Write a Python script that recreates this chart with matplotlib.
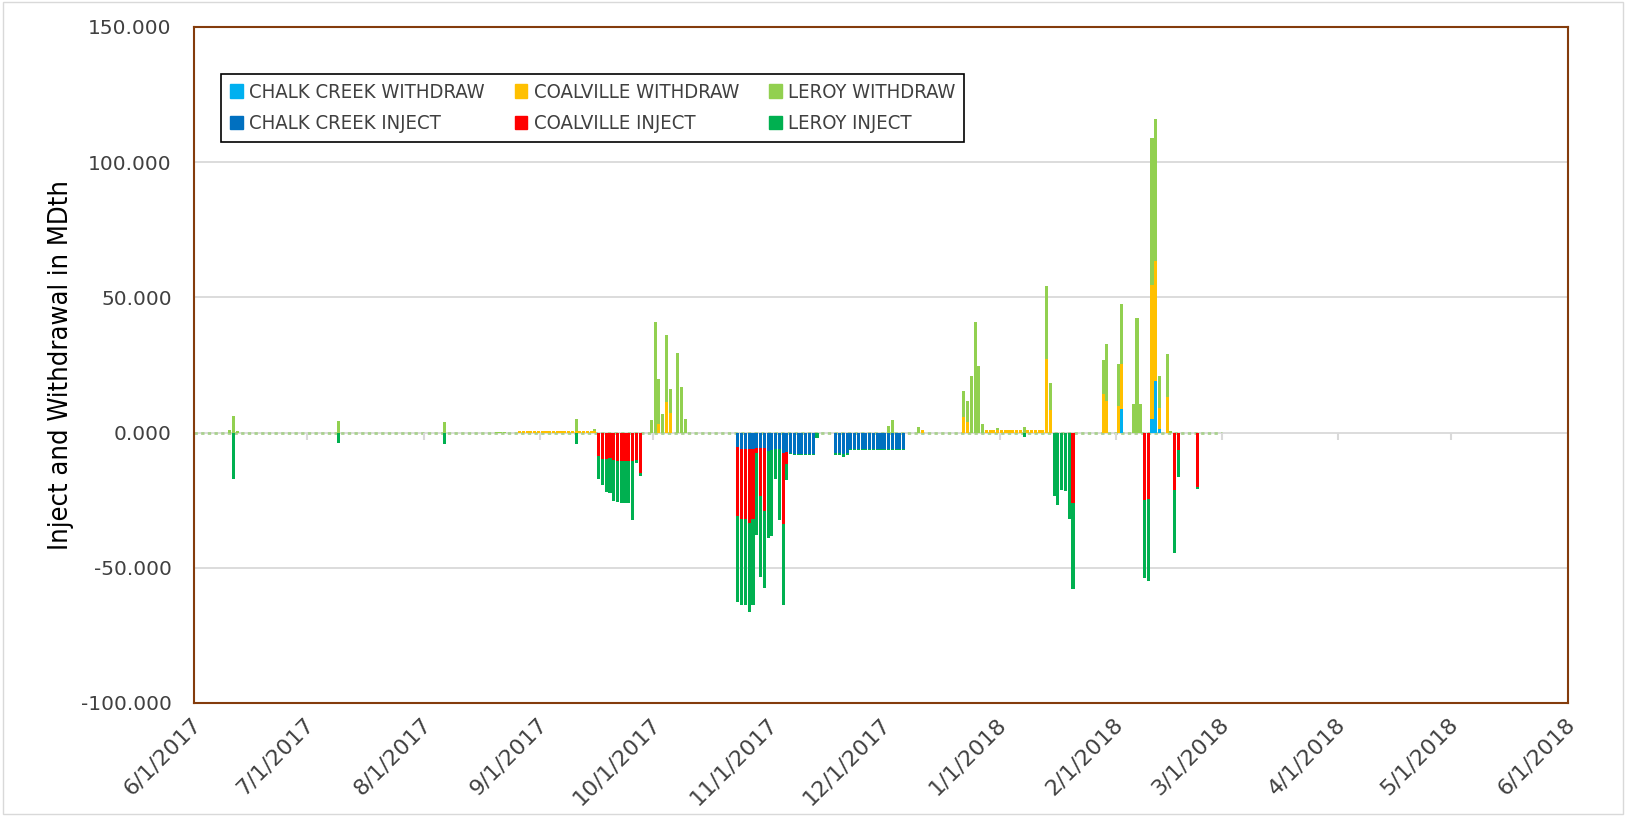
import matplotlib
matplotlib.use("Agg")
import matplotlib.pyplot as plt
import matplotlib.transforms as mtransforms
from matplotlib.patches import Patch, Rectangle
import pandas as pd

# daily values in MDth, only non-zero days listed
chalk_withdraw = {"2018-02-02": 8.9, "2018-02-10": 5.2, "2018-02-11": 19.1, "2018-02-12": 1.5}

coalville_withdraw = {
    "2017-08-26": 0.7, "2017-08-27": 0.7, "2017-08-28": 0.7, "2017-08-29": 0.7, "2017-08-30": 0.7,
    "2017-08-31": 0.7, "2017-09-01": 0.7, "2017-09-02": 0.7, "2017-09-03": 0.7, "2017-09-04": 0.7,
    "2017-09-05": 0.7, "2017-09-06": 0.7, "2017-09-07": 0.7, "2017-09-08": 0.7, "2017-09-09": 0.7,
    "2017-09-10": 0.7, "2017-09-11": 0.7, "2017-09-12": 0.7, "2017-09-13": 0.7, "2017-09-14": 0.7,
    "2017-09-15": 0.7,
    "2017-10-02": 3.1, "2017-10-04": 11.4, "2017-10-05": 7.3, "2017-12-11": 1.1,
    "2017-12-22": 5.6, "2017-12-23": 4.1,
    "2017-12-28": 0.9, "2017-12-29": 0.9, "2017-12-30": 0.9, "2017-12-31": 0.9, "2018-01-01": 0.9,
    "2018-01-02": 0.9, "2018-01-03": 0.9, "2018-01-04": 0.9, "2018-01-05": 0.9, "2018-01-06": 0.9,
    "2018-01-08": 0.9, "2018-01-09": 0.9, "2018-01-10": 0.9, "2018-01-11": 0.9, "2018-01-12": 0.9,
    "2018-01-13": 27.1, "2018-01-14": 8.5, "2018-01-28": 14.2, "2018-01-29": 11.7,
    "2018-02-01": 9.9, "2018-02-02": 16.6, "2018-02-10": 49.5, "2018-02-11": 44.4,
    "2018-02-12": 7.7, "2018-02-14": 13.2,
}

leroy_withdraw = {
    "2017-06-10": 1.0, "2017-06-11": 6.2, "2017-06-12": 0.5, "2017-07-09": 4.3, "2017-08-06": 4.1,
    "2017-08-20": 0.3, "2017-08-21": 0.3, "2017-08-22": 0.3, "2017-09-10": 4.3, "2017-09-15": 0.5,
    "2017-09-30": 4.6, "2017-10-01": 41.0, "2017-10-02": 16.9, "2017-10-03": 6.8, "2017-10-04": 24.7,
    "2017-10-05": 8.9, "2017-10-07": 29.5, "2017-10-08": 16.9, "2017-10-09": 5.2,
    "2017-12-02": 2.5, "2017-12-03": 4.8, "2017-12-10": 1.9,
    "2017-12-22": 9.7, "2017-12-23": 7.5, "2017-12-24": 20.9, "2017-12-25": 40.9, "2017-12-26": 24.6,
    "2017-12-27": 3.2, "2017-12-31": 0.7, "2018-01-07": 2.2, "2018-01-13": 27.0, "2018-01-14": 9.7,
    "2018-01-28": 12.8, "2018-01-29": 21.0, "2018-02-01": 15.4, "2018-02-02": 22.0,
    "2018-02-05": 10.4, "2018-02-06": 42.5, "2018-02-07": 10.5, "2018-02-10": 54.1,
    "2018-02-11": 52.3, "2018-02-12": 11.6, "2018-02-14": 15.7, "2018-02-15": 0.6,
}

chalk_inject = {
    "2017-10-23": -5.5, "2017-10-24": -5.9, "2017-10-25": -5.9, "2017-10-26": -6.2, "2017-10-27": -5.9,
    "2017-10-28": -5.6, "2017-10-29": -5.6, "2017-10-30": -5.6, "2017-10-31": -6.8, "2017-11-01": -6.5,
    "2017-11-02": -6.2, "2017-11-03": -5.9, "2017-11-04": -7.7, "2017-11-05": -7.3, "2017-11-06": -7.4,
    "2017-11-07": -7.9, "2017-11-08": -7.9, "2017-11-09": -7.9, "2017-11-10": -7.9, "2017-11-11": -7.9,
    "2017-11-12": -7.9,
    "2017-11-18": -7.7, "2017-11-19": -7.7, "2017-11-20": -8.0, "2017-11-21": -7.7,
    "2017-11-22": -5.9, "2017-11-23": -5.9, "2017-11-24": -5.9, "2017-11-25": -5.9, "2017-11-26": -5.9,
    "2017-11-27": -5.9, "2017-11-28": -5.9, "2017-11-29": -5.9, "2017-11-30": -5.9, "2017-12-01": -5.9,
    "2017-12-02": -5.9, "2017-12-03": -5.9, "2017-12-04": -5.9, "2017-12-05": -5.9, "2017-12-06": -5.9,
}

coalville_inject = {
    "2017-09-16": -8.6, "2017-09-17": -9.8, "2017-09-18": -9.6, "2017-09-19": -9.3, "2017-09-20": -10.2,
    "2017-09-21": -10.6, "2017-09-22": -10.6, "2017-09-23": -10.5, "2017-09-24": -10.4,
    "2017-09-25": -10.5, "2017-09-26": -10.2, "2017-09-27": -15.1,
    "2017-10-23": -25.4, "2017-10-24": -26.2, "2017-10-25": -26.2, "2017-10-26": -27.4,
    "2017-10-27": -26.2, "2017-10-28": -1.9, "2017-10-29": -17.9, "2017-10-30": -23.5,
    "2017-11-04": -26.2, "2017-11-05": -4.4, "2018-01-20": -26.0, "2018-02-08": -25.0,
    "2018-02-09": -24.5, "2018-02-16": -21.1, "2018-02-17": -6.5, "2018-02-22": -20.1,
}

leroy_inject = {
    "2017-06-11": -17.0, "2017-07-09": -4.0, "2017-08-06": -4.4, "2017-09-10": -4.3,
    "2017-09-16": -8.6, "2017-09-17": -9.6, "2017-09-18": -12.5, "2017-09-19": -13.2,
    "2017-09-20": -15.2, "2017-09-21": -15.0, "2017-09-22": -15.4, "2017-09-23": -15.7,
    "2017-09-24": -15.5, "2017-09-25": -21.9, "2017-09-26": -0.9, "2017-09-27": -0.9,
    "2017-10-23": -31.7, "2017-10-24": -31.7, "2017-10-25": -31.7, "2017-10-26": -32.9,
    "2017-10-27": -31.7, "2017-10-28": -30.2, "2017-10-29": -29.9, "2017-10-30": -28.3,
    "2017-10-31": -32.1, "2017-11-01": -31.8, "2017-11-02": -10.8, "2017-11-03": -26.5,
    "2017-11-04": -29.9, "2017-11-05": -5.9, "2017-11-06": -0.6,
    "2017-11-07": -0.3, "2017-11-08": -0.3, "2017-11-09": -0.3, "2017-11-10": -0.3, "2017-11-11": -0.3,
    "2017-11-12": -0.3, "2017-11-13": -2.0,
    "2017-11-18": -0.7, "2017-11-19": -0.7, "2017-11-20": -1.0, "2017-11-21": -0.7,
    "2017-11-22": -0.6, "2017-11-23": -0.6, "2017-11-24": -0.6, "2017-11-25": -0.6, "2017-11-26": -0.6,
    "2017-11-27": -0.6, "2017-11-28": -0.6, "2017-11-29": -0.6, "2017-11-30": -0.6, "2017-12-01": -0.6,
    "2017-12-02": -0.6, "2017-12-03": -0.6, "2017-12-04": -0.6, "2017-12-05": -0.6, "2017-12-06": -0.6,
    "2018-01-07": -1.5, "2018-01-15": -23.4, "2018-01-16": -26.6, "2018-01-17": -21.3,
    "2018-01-18": -21.6, "2018-01-19": -31.8, "2018-01-20": -31.7,
    "2018-02-08": -28.8, "2018-02-09": -30.5, "2018-02-16": -23.3, "2018-02-17": -9.9,
    "2018-02-22": -0.6,
}

withdraw_series = [("CHALK CREEK WITHDRAW", chalk_withdraw, "#00B0F0"),
                   ("COALVILLE WITHDRAW", coalville_withdraw, "#FFC000"),
                   ("LEROY WITHDRAW", leroy_withdraw, "#92D050")]
inject_series = [("CHALK CREEK INJECT", chalk_inject, "#0070C0"),
                 ("COALVILLE INJECT", coalville_inject, "#FF0000"),
                 ("LEROY INJECT", leroy_inject, "#00B050")]

days = pd.date_range("2017-06-01", "2018-02-28", freq="D")
df = pd.DataFrame(0.0, index=days, columns=[s[0] for s in withdraw_series + inject_series])
for name, vals, _ in withdraw_series + inject_series:
    for d, v in vals.items():
        df.loc[pd.Timestamp(d), name] = v

fig = plt.figure(figsize=(16.26, 8.16), dpi=100)
ax = fig.add_axes([194 / 1626, 1 - 703 / 816, 1374 / 1626, 676 / 816])

x = df.index + pd.Timedelta(hours=12)
w = 0.82
handles = {}
bottom = 0
for name, _, color in withdraw_series:
    ax.bar(x, df[name], w, bottom=bottom, color=color, zorder=3)
    bottom = bottom + df[name]
    handles[name] = Patch(color=color)
bottom = 0
for name, _, color in inject_series:
    ax.bar(x, df[name], w, bottom=bottom, color=color, zorder=3)
    bottom = bottom + df[name]
    handles[name] = Patch(color=color)

# dotted zero line over the range that has data rows
ax.plot([df.index[0], df.index[-1] + pd.Timedelta(days=1)], [0, 0], color="#A9D18E",
        lw=2, ls=(0, (1.2, 1.2)), zorder=2)

months = pd.date_range("2017-06-01", "2018-06-01", freq="MS")
ax.vlines(months, -2.6, 0, color="#D9D9D9", lw=1.5, zorder=2)

ax.set_xlim(pd.Timestamp("2017-06-01"), pd.Timestamp("2018-06-01"))
ax.set_ylim(-100, 150)
ax.set_yticks(range(-100, 151, 50))
ax.set_yticklabels([f"{v:.3f}" for v in range(-100, 151, 50)])
ax.set_xticks(months)
ax.set_xticklabels([f"{d.month}/{d.day}/{d.year}" for d in months])
ax.yaxis.grid(True, color="#D9D9D9", lw=1.3)
ax.set_axisbelow(True)

ax.tick_params(axis="y", length=0, pad=16, labelsize=14.5, labelcolor="#404040")
ax.tick_params(axis="x", length=0, pad=16, labelsize=16, labelcolor="#404040")
shift = mtransforms.ScaledTranslation(0.08, 0, fig.dpi_scale_trans)
for lab in ax.get_xticklabels():
    lab.set_rotation(45)
    lab.set_ha("right")
    lab.set_va("baseline")
    lab.set_rotation_mode("anchor")
    lab.set_transform(lab.get_transform() + shift)

for sp in ax.spines.values():
    sp.set_color("#843C0C")
    sp.set_linewidth(1.5)

ax.set_ylabel("Inject and Withdrawal in MDth", fontsize=19.5, fontstretch="condensed",
              color="black", labelpad=5)

order = ["CHALK CREEK WITHDRAW", "CHALK CREEK INJECT", "COALVILLE WITHDRAW", "COALVILLE INJECT",
         "LEROY WITHDRAW", "LEROY INJECT"]
leg = ax.legend([handles[k] for k in order], order, ncol=3, loc="upper left",
                bbox_to_anchor=(0.0197, 0.9305), borderaxespad=0, fancybox=False,
                edgecolor="black", framealpha=1, handlelength=0.62, handleheight=0.62,
                handletextpad=0.3, columnspacing=1.5, labelspacing=0.6, borderpad=0.45,
                prop={"size": 14.6, "stretch": "condensed"})
leg.get_frame().set_linewidth(1.2)
for t in leg.get_texts():
    t.set_color("#404040")

fig.patches.append(Rectangle((0.002, 0.002), 0.996, 0.996, transform=fig.transFigure,
                             fill=False, edgecolor="#D9D9D9", lw=1))

fig.savefig("out.png", dpi=100)
